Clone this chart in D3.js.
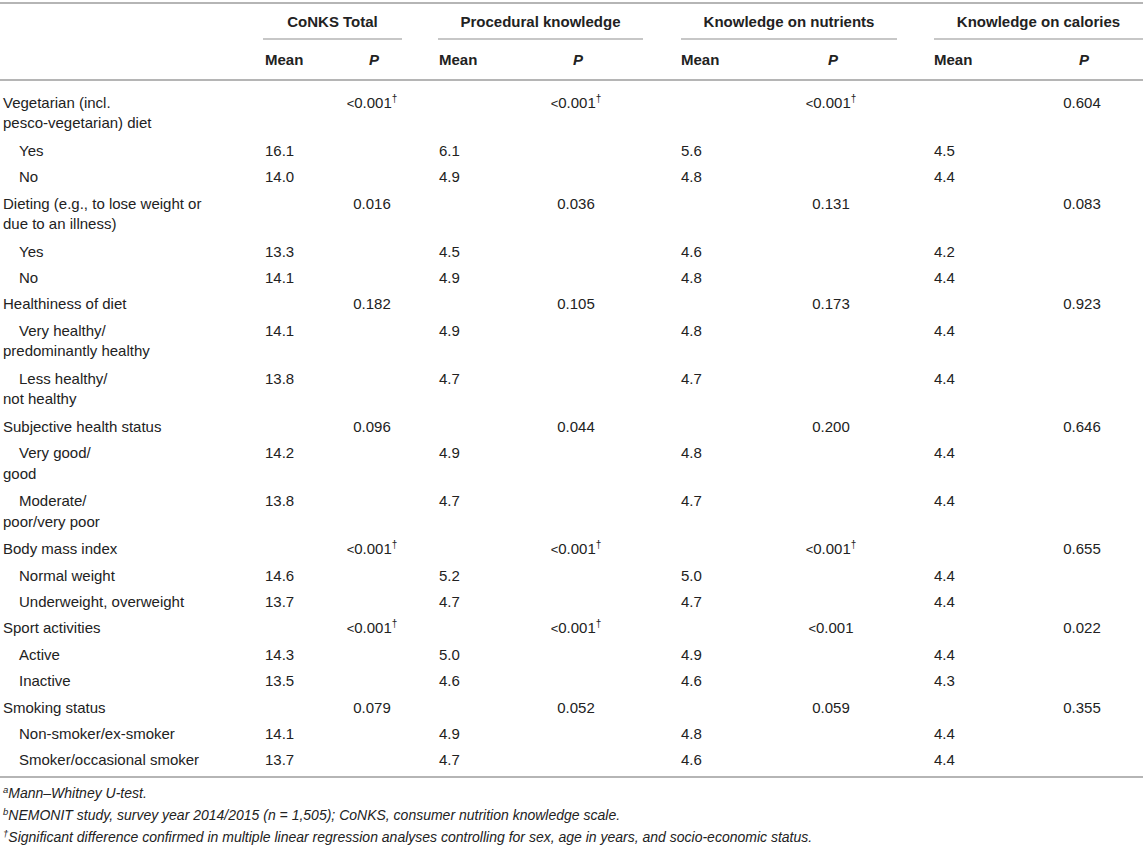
<!DOCTYPE html>
<html>
<head>
<meta charset="utf-8">
<script src="https://cdn.jsdelivr.net/npm/d3@7/dist/d3.min.js"></script>
<style>
  html, body { margin: 0; padding: 0; background: #fff; }
  svg { display: block; }
  text { font-family: "Liberation Sans", Arial, Helvetica, sans-serif; fill: #222; }
</style>
</head>
<body>
<svg id="chart" width="1145" height="849"></svg>
<script>
// ---------------- DATA ----------------
const groups = ["CoNKS Total", "Procedural knowledge", "Knowledge on nutrients", "Knowledge on calories"];
const subHeaders = ["Mean", "P"];

// row labels ("|" marks a line break in the original cell)
const rowLabels = [
  "Vegetarian (incl.|pesco-vegetarian) diet", "Yes", "No",
  "Dieting (e.g., to lose weight or|due to an illness)", "Yes", "No",
  "Healthiness of diet", "Very healthy/|predominantly healthy", "Less healthy/|not healthy",
  "Subjective health status", "Very good/|good", "Moderate/|poor/very poor",
  "Body mass index", "Normal weight", "Underweight, overweight",
  "Sport activities", "Active", "Inactive",
  "Smoking status", "Non-smoker/ex-smoker", "Smoker/occasional smoker"
];
// 0 = variable row, 1 = category row (indented)
const rowLevels = [0,1,1, 0,1,1, 0,1,1, 0,1,1, 0,1,1, 0,1,1, 0,1,1];

const conksMean = [null,16.1,14.0, null,13.3,14.1, null,14.1,13.8, null,14.2,13.8, null,14.6,13.7, null,14.3,13.5, null,14.1,13.7];
const conksP    = ["<0.001†",null,null, "0.016",null,null, "0.182",null,null, "0.096",null,null, "<0.001†",null,null, "<0.001†",null,null, "0.079",null,null];
const procMean  = [null,6.1,4.9, null,4.5,4.9, null,4.9,4.7, null,4.9,4.7, null,5.2,4.7, null,5.0,4.6, null,4.9,4.7];
const procP     = ["<0.001†",null,null, "0.036",null,null, "0.105",null,null, "0.044",null,null, "<0.001†",null,null, "<0.001†",null,null, "0.052",null,null];
const nutrMean  = [null,5.6,4.8, null,4.6,4.8, null,4.8,4.7, null,4.8,4.7, null,5.0,4.7, null,4.9,4.6, null,4.8,4.6];
const nutrP     = ["<0.001†",null,null, "0.131",null,null, "0.173",null,null, "0.200",null,null, "<0.001†",null,null, "<0.001",null,null, "0.059",null,null];
const calMean   = [null,4.5,4.4, null,4.2,4.4, null,4.4,4.4, null,4.4,4.4, null,4.4,4.4, null,4.4,4.3, null,4.4,4.4];
const calP      = ["0.604",null,null, "0.083",null,null, "0.923",null,null, "0.646",null,null, "0.655",null,null, "0.022",null,null, "0.355",null,null];

const footnotes = [
  {mark: "a", text: "Mann–Whitney U-test."},
  {mark: "b", text: "NEMONIT study, survey year 2014/2015 (n = 1,505); CoNKS, consumer nutrition knowledge scale."},
  {mark: "†", text: "Significant difference confirmed in multiple linear regression analyses controlling for sex, age in years, and socio-economic status."}
];

// ---------------- LAYOUT ----------------
const W = 1145, H = 849;
const layout = {
  meanX: [265, 439, 681, 934],
  pX:    [372, 576, 831, 1082],
  span:  [[263, 402], [438, 643], [681, 897], [934, 1143]],
  labelX: 3, indentX: 19,
  topLineY: 3, groupY: 22, underlineY: 39, subY: 60, headLineY: 80,
  firstRowY: 102.5, singleRow: 26.4, extraLine: 21.6, innerLine: 20.5,
  bottomLineY: 777, footY: 793, footStep: 22,
  baseOff: 5.2
};

const svg = d3.select("#chart");
svg.append("rect").attr("width", W).attr("height", H).attr("fill", "#fff");

const lineColor = "#b5b5b5";

// row positions from number of lines in each label
const lineCounts = rowLabels.map(l => l.split("|").length);
const advances = lineCounts.map(n => layout.singleRow + (n - 1) * layout.extraLine);
const rowY = [];
advances.reduce((acc, a, i) => { rowY[i] = acc; return acc + a; }, layout.firstRowY);

const yRow = d3.scaleOrdinal().domain(d3.range(rowLabels.length)).range(rowY);
const xGroup = d3.scaleOrdinal().domain(groups).range(layout.span.map(s => (s[0] + s[1]) / 2));
const xMean = d3.scaleOrdinal().domain(groups).range(layout.meanX);
const xP = d3.scaleOrdinal().domain(groups).range(layout.pX);

// horizontal rules
[layout.topLineY, layout.headLineY, layout.bottomLineY].forEach(y => {
  svg.append("line").attr("x1", 0).attr("x2", 1143).attr("y1", y).attr("y2", y)
    .attr("stroke", lineColor).attr("stroke-width", 2);
});

// group headers
const gHead = svg.append("g");
gHead.selectAll("text.group").data(groups).join("text")
  .attr("class", "group")
  .attr("x", d => xGroup(d)).attr("y", layout.groupY + layout.baseOff)
  .attr("text-anchor", "middle").attr("font-size", 15).attr("font-weight", "bold")
  .text(d => d);
gHead.selectAll("line.under").data(groups).join("line")
  .attr("class", "under")
  .attr("x1", (d, i) => layout.span[i][0]).attr("x2", (d, i) => layout.span[i][1])
  .attr("y1", layout.underlineY).attr("y2", layout.underlineY)
  .attr("stroke", lineColor).attr("stroke-width", 1.5);
gHead.selectAll("text.mean").data(groups).join("text")
  .attr("class", "mean")
  .attr("x", d => xMean(d)).attr("y", layout.subY + layout.baseOff)
  .attr("font-size", 15).attr("font-weight", "bold")
  .text(subHeaders[0]);
gHead.selectAll("text.p").data(groups).join("text")
  .attr("class", "p")
  .attr("x", d => xP(d) + 2).attr("y", layout.subY + layout.baseOff)
  .attr("text-anchor", "middle").attr("font-size", 15).attr("font-weight", "bold").attr("font-style", "italic")
  .text(subHeaders[1]);

// row labels
const body = svg.append("g");
rowLabels.forEach((lab, i) => {
  const parts = lab.split("|");
  const t = body.append("text").attr("font-size", 15);
  parts.forEach((p, k) => {
    t.append("tspan")
      .attr("x", (k === 0 && rowLevels[i] === 1) ? layout.indentX : layout.labelX)
      .attr("y", yRow(i) + k * layout.innerLine + layout.baseOff)
      .text(p);
  });
});

// values
const meanSeries = [conksMean, procMean, nutrMean, calMean];
const pSeries = [conksP, procP, nutrP, calP];
const fmt = d3.format(".1f");

groups.forEach((g, gi) => {
  body.selectAll(null).data(meanSeries[gi].map((v, i) => ({v, i})).filter(d => d.v !== null)).join("text")
    .attr("x", xMean(g)).attr("y", d => yRow(d.i) + layout.baseOff)
    .attr("font-size", 15)
    .text(d => fmt(d.v));

  const pt = body.selectAll(null).data(pSeries[gi].map((v, i) => ({v, i})).filter(d => d.v !== null)).join("text")
    .attr("x", xP(g)).attr("y", d => yRow(d.i) + layout.baseOff)
    .attr("text-anchor", "middle").attr("font-size", 15);
  pt.each(function(d) {
    const sel = d3.select(this);
    const hasDagger = d.v.endsWith("†");
    const core = hasDagger ? d.v.slice(0, -1) : d.v;
    if (core.startsWith("<")) {
      sel.append("tspan").attr("font-size", 13).text("<");
      sel.append("tspan").text(core.slice(1));
    } else {
      sel.append("tspan").text(core);
    }
    if (hasDagger) {
      sel.append("tspan").attr("font-size", 10).attr("dy", -6).text("†");
    }
  });
});

// footnotes
const foot = svg.append("g");
footnotes.forEach((f, i) => {
  const t = foot.append("text")
    .attr("x", layout.labelX)
    .attr("y", layout.footY + i * layout.footStep + layout.baseOff - 0.5)
    .attr("font-size", 14).attr("font-style", "italic");
  t.append("tspan").attr("font-size", 9.5).attr("dy", -4.5).text(f.mark);
  t.append("tspan").attr("dy", 4.5).text(f.text);
});
</script>
</body>
</html>
